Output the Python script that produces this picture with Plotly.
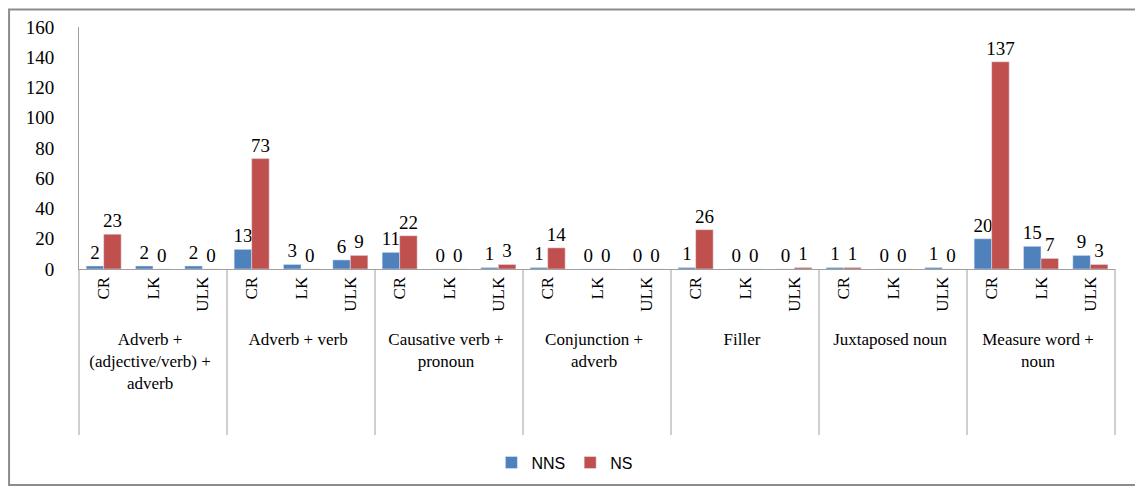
import plotly.graph_objects as go

groups = [
    "Adverb +<br>(adjective/verb) +<br>adverb",
    "Adverb + verb",
    "Causative verb +<br>pronoun",
    "Conjunction +<br>adverb",
    "Filler",
    "Juxtaposed noun",
    "Measure word +<br>noun",
]
subs = ["CR", "LK", "ULK"]

nns = [2, 2, 2, 13, 3, 6, 11, 0, 1, 1, 0, 0, 1, 0, 0, 1, 0, 1, 20, 15, 9]
ns = [23, 0, 0, 73, 0, 9, 22, 0, 3, 14, 0, 0, 26, 0, 1, 1, 0, 0, 137, 7, 3]

x_outer = [g for g in groups for _ in subs]
x_inner = [s for _ in groups for s in subs]

serif = "Liberation Serif"
fig = go.Figure()
for name, vals, col in [("NNS", nns, "#4F81BD"), ("NS", ns, "#C0504D")]:
    fig.add_trace(go.Bar(name=name, x=[x_outer, x_inner], y=vals, marker_color=col,
                         text=vals, textposition="outside", cliponaxis=False,
                         constraintext="none",
                         textfont=dict(family=serif, size=19, color="#000")))

fig.update_layout(
    width=1135, height=480,
    margin=dict(l=71, r=28, t=19, b=219, autoexpand=False),
    paper_bgcolor="white", plot_bgcolor="white",
    barmode="group", bargap=0.29, bargroupgap=0,
    showlegend=True,
    legend=dict(orientation="h", x=0.469, xanchor="center", y=-0.80, yanchor="middle",
                font=dict(family="Liberation Sans", size=16, color="#000")),
    font=dict(family=serif, size=17, color="#000"),
)
fig.update_xaxes(type="multicategory", tickangle=-90, showline=True, linecolor="#A0A0A0",
                 linewidth=1, showdividers=False, automargin=False,
                 ticks="", tickfont=dict(family=serif, size=17, color="#000"))
fig.update_yaxes(range=[0, 160], dtick=20, showgrid=False, showline=True, linecolor="#A0A0A0",
                 linewidth=1, ticks="", zeroline=False, ticklabelstandoff=20, automargin=False,
                 tickfont=dict(family=serif, size=19, color="#000"))

n_groups = len(groups)
for k in range(n_groups + 1):
    fig.add_shape(type="line", xref="paper", yref="paper", x0=k / n_groups, x1=k / n_groups,
                  y0=0, y1=-0.686, line=dict(color="#A0A0A0", width=1))

fig.add_shape(type="rect", xref="paper", yref="paper", x0=-0.0675, x1=1.025, y0=-0.893, y1=1.072,
              line=dict(color="#8C8C8C", width=2), fillcolor="rgba(0,0,0,0)", layer="below")

fig.write_html("out.html")
